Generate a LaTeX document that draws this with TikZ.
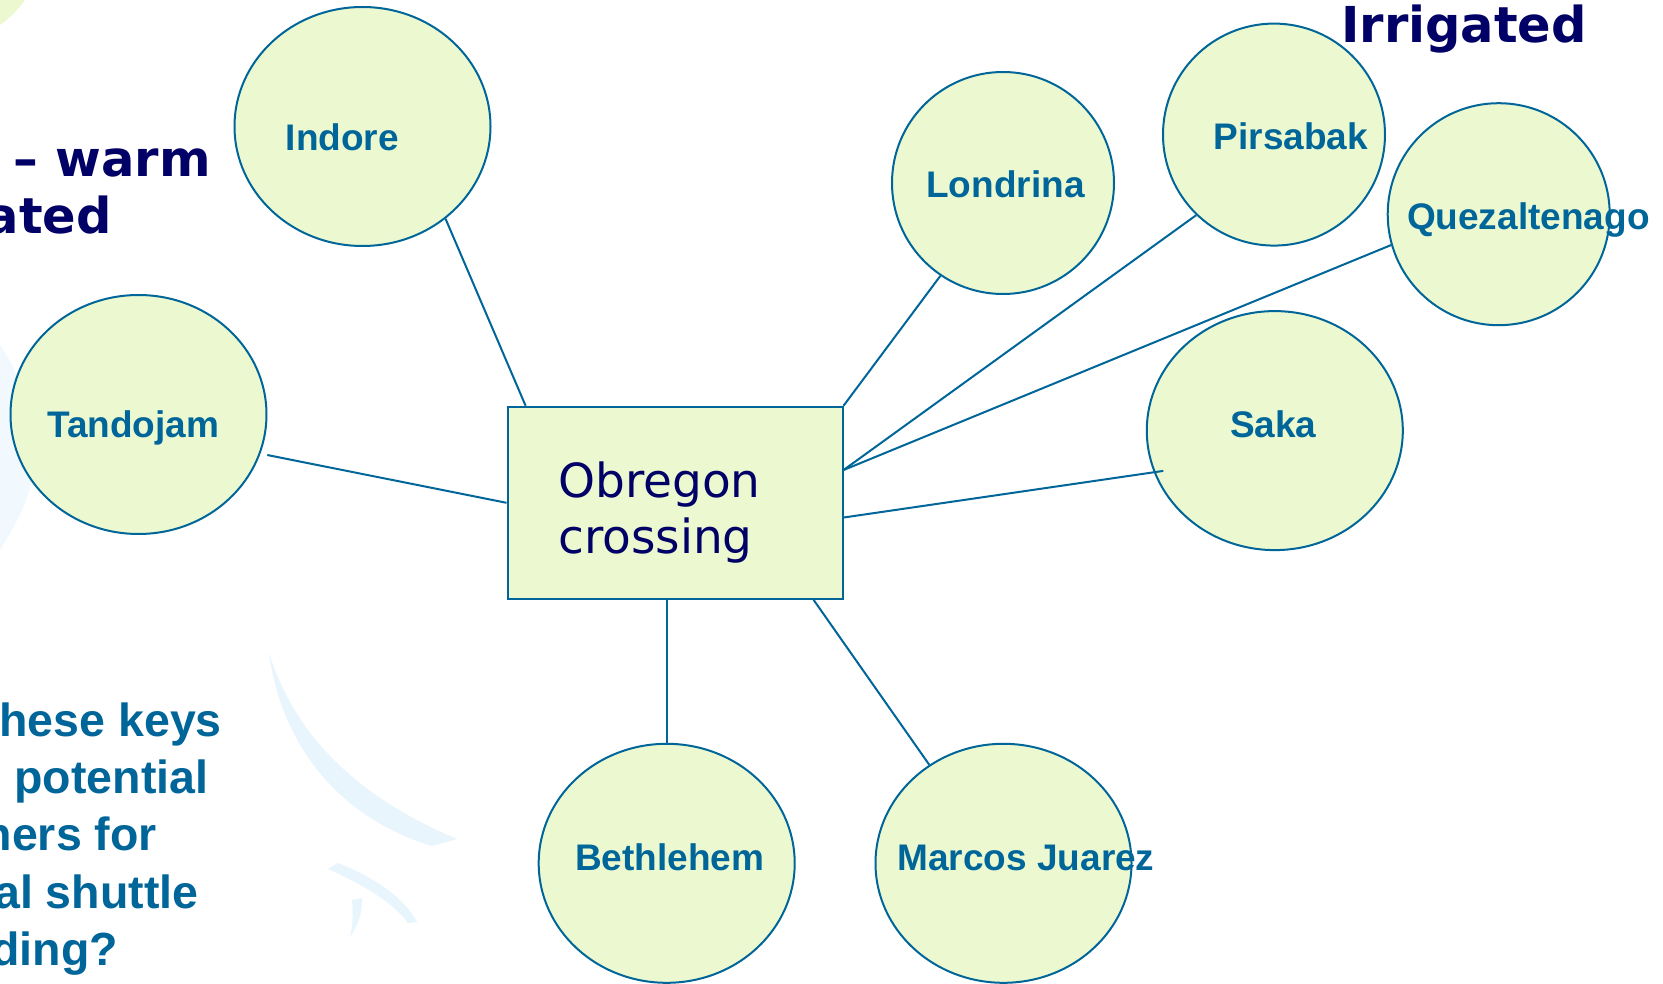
\documentclass[tikz,border=0pt]{standalone}
\usepackage{fontspec}
\usetikzlibrary{positioning, shapes.geometric}

\newfontfamily\sitefont{Liberation Sans}
\newfontfamily\verdfont{DejaVu Sans}

\definecolor{sitefill}{RGB}{236,249,208}
\definecolor{siteblue}{RGB}{0,102,153}
\definecolor{navy}{RGB}{0,0,102}
\definecolor{swoosh}{RGB}{232,245,253}

\begin{document}
\begin{tikzpicture}[x=1pt, y=-1pt,
    site/.style={ellipse, draw=siteblue, fill=sitefill, line width=2pt, inner sep=0pt},
    bigsite/.style={site, minimum width=256pt, minimum height=239pt},
    smallsite/.style={site, minimum width=222pt, minimum height=222pt},
    hub/.style={rectangle, draw=siteblue, fill=sitefill, line width=2pt, inner sep=0pt,
        minimum width=335pt, minimum height=192pt},
    hubtext/.style={inner sep=0pt, text width=260pt, align=left, text=navy,
        font=\verdfont\fontsize{47}{56}\selectfont},
    sitename/.style={anchor=base, inner sep=0pt, text=siteblue,
        font=\sitefont\bfseries\fontsize{37}{44}\selectfont},
    title/.style={inner sep=0pt, text=navy, font=\verdfont\bfseries\fontsize{49.5}{56}\selectfont},
    question/.style={anchor=base east, inner sep=0pt, text=siteblue,
        font=\sitefont\bfseries\fontsize{46.5}{57}\selectfont},
    link/.style={draw=siteblue, line width=2pt}]

    % Cadre de la page
    \useasboundingbox[fill=white] (0,0) rectangle (1663,984);

    % Decor de fond (tres pale)
    \fill[sitefill] (-60,-60) circle (104);
    \fill[swoosh!60] (0,345) .. controls (25,380) and (40,440) .. (32,480)
        .. controls (25,510) and (12,530) .. (0,550) -- cycle;
    \fill[swoosh] (269,653) .. controls (290,720) and (340,790) .. (457,839)
        -- (432,846) .. controls (330,815) and (280,735) .. cycle;
    \fill[swoosh] (328,869) -- (338,863) .. controls (380,880) and (405,900) .. (417,922)
        -- (408,923) .. controls (395,905) and (370,888) .. cycle;
    \fill[swoosh] (352,900) -- (362,898) .. controls (362,915) and (358,925) .. (350,937)
        .. controls (353,925) and (353,912) .. cycle;

    % Les sites partenaires
    \node[bigsite] (indore) at (362.5,126.5) {};
    \node[bigsite] (tandojam) at (138.5,414.5) {};
    \node[smallsite] (londrina) at (1003,183) {};
    \node[smallsite] (pirsabak) at (1274,134.6) {};
    \node[smallsite] (quezaltenago) at (1498.7,214.2) {};
    \node[bigsite] (saka) at (1274.8,430.6) {};
    \node[bigsite] (bethlehem) at (666.7,863.3) {};
    \node[bigsite] (marcos) at (1003.5,863.3) {};

    % Le site central
    \node[hub] (obregon) at (675,502.8) {};

    % Liaisons vers Obregon
    \draw[link] (indore.-48) -- (obregon.147.6);
    \draw[link] ([shift={(128.8,40.5)}]tandojam.center) -- (obregon.west);
    \draw[link] (londrina.236.4) -- (obregon.north east);
    \draw[link] (pirsabak.226) -- (obregon.11.1);
    \draw[link] (quezaltenago.196) -- (obregon.11.1);
    \draw[link] ([shift={(-111.5,40.3)}]saka.center) -- (obregon.-5.4);
    \draw[link] (bethlehem.north) -- (bethlehem.north |- obregon.south);
    \draw[link] (marcos.127.8) -- (obregon.-35.3);

    % Noms des sites
    \node[hubtext, anchor=base west] (obregontext) at ([shift={(51.5,-5.5)}]obregon.west) {Obregon\\crossing};
    \node[sitename] (indorename) at (342.3,151) {Indore};
    \node[sitename] (tandojamname) at (133.3,437.3) {Tandojam};
    \node[sitename] (londrinaname) at (1005.5,197.3) {Londrina};
    \node[sitename] (pirsabakname) at (1291,150) {Pirsabak};
    \node[sitename] (quezaltenagoname) at (1528.3,230) {Quezaltenago};
    \node[sitename] (sakaname) at (1273.3,437.3) {Saka};
    \node[sitename] (bethlehemname) at (669.6,870) {Bethlehem};
    \node[sitename] (marcosname) at (1026,870) {Marcos Juarez};

    % Titres (coupes au bord)
    \node[title, anchor=base east] (warm) at (211,176.7) {– warm};
    \node[title, anchor=base east] (ated) at (112,233.3) {ated};
    \node[title, anchor=base west] (irrigated) at (1341,42.7) {Irrigated};

    % Question en bas a gauche
    \foreach \ligne/\xd/\yb [count=\i] in {hese keys/222/736.7, potential/208.5/793.3,
        hers for/157/850, al shuttle/198.5/908.3, ding?/118/965}
        \node[question] (q\i) at (\xd,\yb) {\ligne};

\end{tikzpicture}
\end{document}
